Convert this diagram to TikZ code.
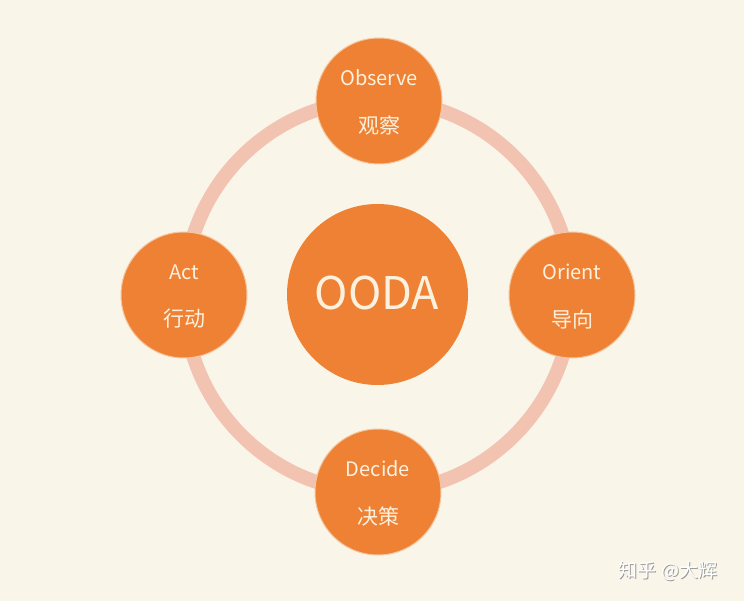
\documentclass[tikz,border=0pt]{standalone}
\usepackage{fontspec}
\setmainfont{Noto Sans CJK SC}
\newfontfamily\cjk{Noto Sans CJK SC}
\definecolor{paper}{HTML}{F9F5E8}
\definecolor{ringpink}{HTML}{F3C3B2}
\definecolor{orangefill}{HTML}{EE8134}
\definecolor{labeltext}{HTML}{FCF1DF}
\definecolor{markshadow}{HTML}{9A9A9A}
\begin{document}
\begin{tikzpicture}[x=1pt,y=-1pt,
  stage/.style={circle, fill=orangefill, draw=paper!60!orangefill, line width=1pt,
    minimum size=126pt, inner sep=0pt},
  hub/.style={circle, fill=orangefill, minimum size=181pt, inner sep=0pt},
  entext/.style={text=labeltext, font=\cjk\fontsize{20}{22}\selectfont, anchor=center},
  zhtext/.style={text=labeltext, font=\cjk\fontsize{21}{23}\selectfont, anchor=center},
  ring/.style={draw=ringpink, line width=14pt}]
  % page
  \fill[paper] (0,0) rectangle (744,601);
  \useasboundingbox (0,0) rectangle (744,601);

  % cycle ring behind the stages
  \coordinate (c) at (378,296);
  \draw[ring] (c) ellipse [x radius=194pt, y radius=196pt];

  % hub
  \node[hub] (ooda) at (377.5,294.5) {};
  \node[text=labeltext, font=\cjk\fontsize{45}{50}\selectfont] (oodat) at (377,293) {OODA};

  % four stages (yshift is in page units: positive = up)
  \node[stage] (obs) at (379,101) {};
  \node[stage] (ori) at (572,295) {};
  \node[stage] (dec) at (378,492) {};
  \node[stage] (act) at (184,295) {};

  \node[entext] (obs1) at ([yshift=23pt]obs.center) {Observe};
  \node[zhtext] (obs2) at ([yshift=-24pt]obs.center) {观察};
  \node[entext] (ori1) at ([yshift=23pt]ori.center) {Orient};
  \node[zhtext] (ori2) at ([yshift=-24pt]ori.center) {导向};
  \node[entext] (dec1) at ([yshift=23pt]dec.center) {Decide};
  \node[zhtext] (dec2) at ([yshift=-24pt]dec.center) {决策};
  \node[entext] (act1) at ([yshift=23pt]act.center) {Act};
  \node[zhtext] (act2) at ([yshift=-24pt]act.center) {行动};

  % signature mark
  \node[text=markshadow, font=\cjk\fontsize{19}{21}\selectfont] (sigs) at (669,572) {知乎 @大辉};
  \node[text=white, font=\cjk\fontsize{19}{21}\selectfont] (sig) at (668,571) {知乎 @大辉};
\end{tikzpicture}
\end{document}
